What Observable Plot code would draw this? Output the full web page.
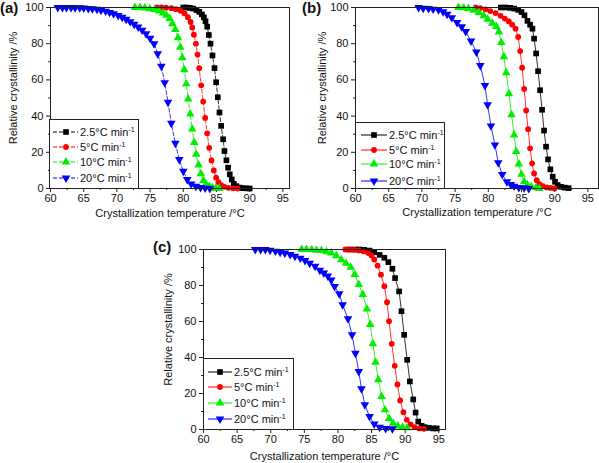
<!DOCTYPE html>
<html><head><meta charset="utf-8">
<script src="https://cdn.jsdelivr.net/npm/d3@7"></script>
<script src="https://cdn.jsdelivr.net/npm/@observablehq/plot@0.6"></script>
<style>
body{margin:0;background:#fff;font-family:"Liberation Sans",Arial,sans-serif;}
#root{position:relative;width:599px;height:463px;overflow:hidden;background:#fff;}
.panel{position:absolute;}
.tag{position:absolute;font-weight:bold;font-size:15px;line-height:1;color:#111;}
</style></head><body><div id="root"></div>
<script>
// ---------- tick values & labels ----------
const xMajor = [60,65,70,75,80,85,90,95];
const xMinor = [62.5,67.5,72.5,77.5,82.5,87.5,92.5];
const yMajor = [0,20,40,60,80,100];
const yMinor = [10,30,50,70,90];
const rates = ["2.5","5","10","20"];
const xTitle = "Crystallization temperature /°C";
const yTitle = "Relative crystallinity /%";
const colors = ["#000000","#ff0000","#00ee00","#0000ff"];

// ---------- panel (a) ----------
const aT25 = [80.0,80.5,81.0,81.5,82.0,82.4,82.8,83.1,83.35,83.6,83.85,84.1,84.4,84.7,84.95,85.2,85.45,85.7,86.0,86.2,86.5,86.75,87.0,87.3,87.6,88.0,88.5,89.0,89.5,90.0];
const aX25 = [100,100,99.8,99.4,98.6,97.6,96.2,94.6,92.4,89.4,84.8,80,73.5,66.5,58.7,50.4,42,34.6,27.2,20.7,15.6,11.5,7.8,5.0,2.6,1.3,0.5,0.2,0.1,0];
const aT5 = [76.0,76.7,77.4,78.2,78.9,79.6,80.2,80.7,81.1,81.35,81.6,81.9,82.15,82.4,82.7,83.0,83.3,83.6,83.9,84.25,84.6,84.95,85.3,85.7,86.2,86.8,87.5,88.2];
const aX5 = [100,100,99.9,99.6,99.1,98.2,96.7,94.6,92.0,89.0,85,80,74,66.5,57,48,39,30.5,22.5,15.5,10,6,3.5,1.8,0.9,0.4,0.1,0];
const aT10 = [72.7,73.5,74.2,74.95,75.7,76.35,76.95,77.45,77.95,78.35,78.8,79.2,79.55,79.85,80.15,80.45,80.75,81.05,81.35,81.65,81.95,82.3,82.65,83.05,83.4,83.9,84.4,84.9,85.4];
const aX10 = [100,100,99.7,99.3,98.9,98.1,97,95.7,93.9,91,87.8,83.3,78.1,72.2,65.6,57.8,49.4,41.1,32.8,25.4,18.9,13,8.1,4.4,2.2,1.1,0.4,0.1,0];
const aT20 = [61.1,61.8,62.4,63.1,63.7,64.4,65.0,65.7,66.3,67.0,67.6,68.3,68.9,69.5,70.2,70.8,71.4,72.0,72.6,73.2,73.8,74.4,75.0,75.6,76.15,76.7,77.2,77.7,78.2,78.8,79.4,80.0,80.6,81.2,81.9,82.6,83.3,84.0];
const aX20 = [100,100,100,100,99.9,99.8,99.7,99.5,99.3,99,98.5,98,97.3,96.5,95.6,94.6,93.5,92.2,90.8,89.2,87.5,85.5,83,80,74.4,67.5,58.5,47.6,36,25,16,9.5,5,2.5,1.2,0.5,0.2,0];

// ---------- panel (b) ----------
const bT25 = [81.9,82.6,83.3,83.9,84.5,85.0,85.45,85.9,86.3,86.65,86.9,87.2,87.5,87.8,88.1,88.4,88.7,89.0,89.35,89.7,90.05,90.45,90.95,91.5,92.1];
const bX25 = [100,100,99.8,99.4,98.7,97.5,95.7,92.6,90.5,88.3,82.8,74.6,64.8,54.3,43.5,32,23.1,16.1,10.6,6.5,3.7,1.9,0.9,0.5,0.2];
const bT5 = [78.1,78.8,79.6,80.3,81.1,81.85,82.5,83.1,83.6,84.1,84.5,84.8,85.1,85.4,85.7,86.0,86.3,86.6,86.9,87.3,87.7,88.2,88.8,89.4,90.0];
const bX5 = [100,99.7,99,98,96.9,95.4,93.9,92.3,90.5,88.3,83.7,75.9,66.7,55,43.1,32.8,22.2,13.9,8.3,4.6,2.4,1.3,0.6,0.3,0];
const bT10 = [75.5,76.3,77.0,77.8,78.6,79.3,79.9,80.6,81.2,81.6,81.95,82.35,82.7,83.1,83.5,83.9,84.2,84.6,85.0,85.4,85.9,86.5,87.2,87.7];
const bX10 = [100,99.8,99.4,98.5,97.2,95.4,93.5,91.3,89.5,86.5,80.6,72.8,63.9,52.4,40.7,29.6,20.4,13.5,7.8,3.7,1.9,0.9,0.4,0];
const bT20 = [69.5,70.2,71.0,71.7,72.5,73.2,73.8,74.5,75.3,76.0,76.6,77.4,78.2,78.8,79.5,79.9,80.4,81.0,81.5,82.1,82.8,83.4,83.9,84.6,85.4,86.1];
const bX20 = [100,99.6,99.4,99.1,98.7,97.6,96.3,94.4,91.7,89.4,86.7,81.5,75.4,68,56.9,46.3,34.6,24.1,14.3,7.8,3.7,2.2,1.3,0.6,0.4,0];

// ---------- panel (c) ----------
const cT25 = [81.7,82.5,83.2,83.9,84.7,85.4,86.2,86.9,87.5,88.1,88.5,89.1,89.45,89.85,90.3,90.7,91.2,91.55,91.95,92.45,92.9,93.5,94.2,94.7];
const cX25 = [100,100,100,99.8,99.4,98.5,97,95.4,93,89.3,84.1,76.7,65.7,52.6,38.7,26.7,16.7,9.4,4.4,2,1.3,0.9,0.6,0.6];
const cT5 = [81.1,81.7,82.4,83.1,83.8,84.5,85.0,85.4,85.9,86.4,86.9,87.3,87.6,88.0,88.45,88.85,89.25,89.75,90.25,90.8,91.4,92.1,92.8];
const cX5 = [100,100,99.8,99.5,99,98,96.6,94.5,91,86,79.6,70.7,60.2,47.6,35.4,25,16.1,9.6,5.4,2.8,1.3,0.6,0.4];
const cT10 = [74.6,75.3,76.1,76.8,77.55,78.3,79.0,79.75,80.5,81.2,81.9,82.5,83.1,83.7,84.3,84.8,85.2,85.6,86.0,86.5,87.0,87.6,88.2,88.9,89.6,90.3];
const cX10 = [100,100,99.9,99.6,99.4,98.7,98,96.5,94.3,92.4,90.2,86.1,80.6,75,67,58.3,47.6,37.4,27.6,18.3,10.9,6.1,3.5,2,1.3,0.9];
const cT20 = [67.7,68.5,69.2,69.9,70.7,71.4,72.1,72.9,73.6,74.4,75.1,75.8,76.6,77.3,77.9,78.5,79.0,79.5,80.2,80.7,81.5,82.1,82.6,83.1,83.5,84.0,84.7,85.4,86.2,87.1,88.1];
const cX20 = [100,100,100,99.6,99.1,98.5,98,97.2,96.3,95.2,93.9,92.4,90.7,88.5,87,85.3,83.1,79.4,75.4,69.3,61.5,52.6,42.4,32.2,22.6,13.7,7.2,3.1,1.3,0.6,0.4];

// ---------- symbols ----------
const sqrt3 = Math.sqrt(3);
const triDown = {draw(ctx, size){
  const y = -Math.sqrt(size / (sqrt3 * 3));
  ctx.moveTo(0, -y * 2); ctx.lineTo(-sqrt3 * y, y); ctx.lineTo(sqrt3 * y, y); ctx.closePath();
}};
const symbols = [d3.symbolSquare, d3.symbolCircle, d3.symbolTriangle, triDown];

const zip = (T, X) => T.map((t, i) => ({t, v: X[i]}));

const panels = [
  {left:0, top:0, width:299, height:222, mL:50, mR:10, mT:7, mB:34, xMax:96, dash:"4,2",
   ylabDx:-37, xlabDy:24.5, tag:"(a)", tagX:0, tagY:0,
   series:[zip(aT25,aX25), zip(aT5,aX5), zip(aT10,aX10), zip(aT20,aX20)],
   lg:{x:49, y:119, w:90, h:70, rows:[132,147,162,178], l1:53, l2:78, sx:66, tx:80}},
  {left:300, top:0, width:299, height:222, mL:55, mR:1, mT:7, mB:34, xMax:96.6, dash:null,
   ylabDx:-33, xlabDy:24, tag:"(b)", tagX:302, tagY:0,
   series:[zip(bT25,bX25), zip(bT5,bX5), zip(bT10,bX10), zip(bT20,bX20)],
   lg:{x:355, y:122, w:90, h:67, rows:[135,150,164,181], l1:361, l2:387, sx:374, tx:389}},
  {left:140, top:230, width:320, height:233, mL:63, mR:15, mT:19, mB:34, xMax:96, dash:null,
   ylabDx:-35, xlabDy:27, tag:"(c)", tagX:153, tagY:239,
   series:[zip(cT25,cX25), zip(cT5,cX5), zip(cT10,cX10), zip(cT20,cX20)],
   lg:{x:203, y:358, w:91, h:72, rows:[372,387,403,419], l1:208, l2:232, sx:220, tx:234}}
];

const root = document.getElementById("root");

for (const p of panels) {
  const marks = [
    Plot.axisY(yMajor, {tickSize:4, tickPadding:3, label:null, stroke:"#222", fill:"#111"}),
    Plot.axisY(yMinor, {tickSize:2, tickFormat:() => "", label:null, stroke:"#222"}),
    Plot.axisX(xMajor, {tickSize:4, tickPadding:2, label:null, stroke:"#222", fill:"#111"}),
    Plot.axisX(xMinor, {tickSize:2, tickFormat:() => "", label:null, stroke:"#222"}),
    Plot.text([xTitle], {frameAnchor:"bottom", text:d => d, dy:p.xlabDy, fontSize:11, lineAnchor:"middle", fill:"#111"}),
    Plot.text([yTitle], {frameAnchor:"left", text:d => d, rotate:-90, dx:p.ylabDx, dy:-10, fontSize:11, lineAnchor:"middle", textAnchor:"middle", fill:"#111"})
  ];
  p.series.forEach((s, i) => {
    marks.push(Plot.line(s, {x:"t", y:"v", stroke:colors[i], strokeWidth:1, strokeOpacity:0.8, strokeDasharray:p.dash || undefined}));
  });
  p.series.forEach((s, i) => {
    marks.push(Plot.dot(s, {x:"t", y:"v", symbol:symbols[i], r: i === 1 ? 2.9 : 3.2, fill:colors[i], stroke:"none"}));
  });
  marks.push(Plot.frame({stroke:"#222", strokeWidth:1}));
  const chart = Plot.plot({
    width:p.width, height:p.height,
    marginLeft:p.mL, marginRight:p.mR, marginTop:p.mT, marginBottom:p.mB,
    x:{domain:[60, p.xMax]}, y:{domain:[0, 100]},
    style:{fontFamily:"'Liberation Sans', Arial, sans-serif", fontSize:"11px", background:"transparent", overflow:"visible", color:"#111"},
    marks
  });
  chart.classList.add("panel");
  chart.style.left = p.left + "px";
  chart.style.top = p.top + "px";
  root.appendChild(chart);

  // panel tag
  const tag = document.createElement("div");
  tag.className = "tag";
  tag.textContent = p.tag;
  tag.style.left = p.tagX + "px";
  tag.style.top = p.tagY + "px";
  root.appendChild(tag);

  // legend
  const L = p.lg;
  const svg = d3.create("svg").attr("width", L.w).attr("height", L.h)
    .style("position","absolute").style("left", L.x + "px").style("top", L.y + "px");
  svg.append("rect").attr("x",0.5).attr("y",0.5).attr("width",L.w-1).attr("height",L.h-1)
    .attr("fill","#fff").attr("stroke","#222");
  rates.forEach((r, i) => {
    const y = L.rows[i] - L.y;
    svg.append("line").attr("x1", L.l1 - L.x).attr("x2", L.l2 - L.x).attr("y1", y).attr("y2", y)
      .attr("stroke", colors[i]).attr("stroke-width", 1).attr("stroke-dasharray", p.dash);
    svg.append("path").attr("d", d3.symbol(symbols[i], i === 1 ? 26 : 32)())
      .attr("transform", `translate(${L.sx - L.x},${y})`).attr("fill", colors[i]);
    const t = svg.append("text").attr("x", L.tx - L.x).attr("y", y).attr("dy", "0.36em")
      .attr("font-family", "'Liberation Sans', Arial, sans-serif").attr("font-size", 11).attr("fill", "#111");
    t.append("tspan").text(r + "°C min");
    t.append("tspan").attr("font-size", 7).attr("dy", -4).text("-1");
  });
  root.appendChild(svg.node());
}
</script>
</body></html>
